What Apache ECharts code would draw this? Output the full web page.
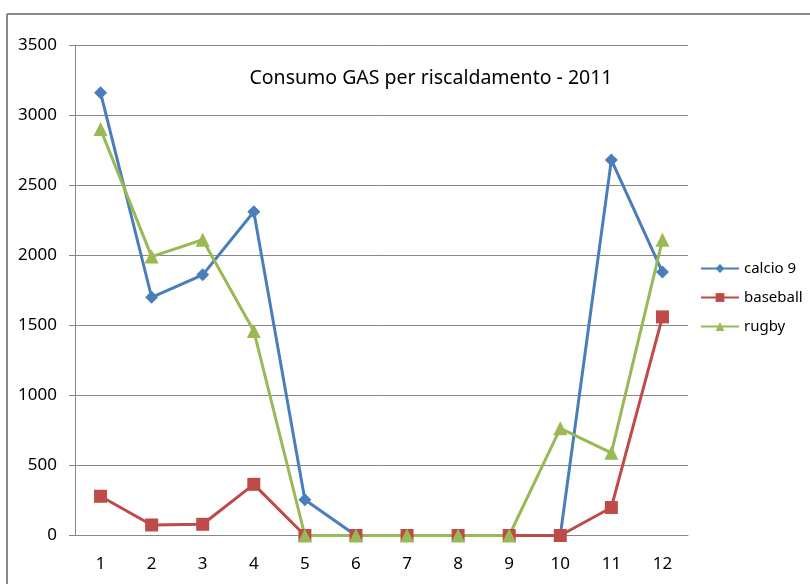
<!DOCTYPE html>
<html>
<head>
<meta charset="utf-8">
<script src="https://cdn.jsdelivr.net/npm/echarts@6/dist/echarts.min.js"></script>
<style>
    html, body { margin: 0; padding: 0; background: #fff; }
    #chart { width: 810px; height: 584px; }
</style>
</head>
<body>
<div id="chart"></div>
<script>
// dati
const mesi = ['1', '2', '3', '4', '5', '6', '7', '8', '9', '10', '11', '12'];
const calcio9 = [3160, 1700, 1860, 2310, 255, 0, 0, 0, 0, 0, 2680, 1880];
const baseball = [280, 75, 80, 365, 0, 0, 0, 0, 0, 0, 200, 1560];
const rugby = [2900, 1990, 2110, 1460, 0, 0, 0, 0, 0, 765, 590, 2110];

const font = 'Noto Sans';
const myChart = echarts.init(document.getElementById('chart'));

function serie(name, data, color, symbol, size) {
    return {
        name: name,
        type: 'line',
        data: data,
        symbol: symbol,
        symbolSize: size,
        lineStyle: {color: color, width: 3},
        itemStyle: {color: color},
        animation: false
    };
}

const option = {
    backgroundColor: '#fff',
    title: {
        text: 'Consumo GAS per riscaldamento - 2011',
        left: 426,
        top: 63,
        textAlign: 'center',
        textStyle: {fontFamily: font, fontSize: 19.5, fontWeight: 'normal', color: '#000'}
    },
    legend: {
        orient: 'vertical',
        left: 695,
        top: 256,
        itemWidth: 38,
        itemHeight: 11,
        itemGap: 14,
        textStyle: {fontFamily: font, fontSize: 15, color: '#000'},
        data: ['calcio 9', 'baseball', 'rugby']
    },
    grid: {left: 75, right: 122, top: 45, bottom: 48.5},
    xAxis: {
        type: 'category',
        data: mesi,
        boundaryGap: true,
        axisLine: {lineStyle: {color: '#868686'}},
        axisTick: {length: 5, lineStyle: {color: '#868686'}},
        axisLabel: {fontFamily: font, fontSize: 17, color: '#000', margin: 20}
    },
    yAxis: {
        type: 'value',
        min: 0,
        max: 3500,
        interval: 500,
        axisLine: {show: true, lineStyle: {color: '#868686'}},
        axisTick: {show: true, length: 6, lineStyle: {color: '#868686'}},
        axisLabel: {fontFamily: font, fontSize: 17, color: '#000', margin: 18, formatter: (v) => String(v)},
        splitLine: {lineStyle: {color: '#868686'}}
    },
    graphic: [
        {type: 'line', shape: {x1: 7, y1: 14, x2: 810, y2: 14}, style: {stroke: '#888', lineWidth: 2}},
        {type: 'line', shape: {x1: 7, y1: 14, x2: 7, y2: 584}, style: {stroke: '#888', lineWidth: 2}}
    ],
    series: [
        serie('calcio 9', calcio9, '#4a7ebb', 'diamond', 13),
        serie('baseball', baseball, '#be4b48', 'rect', 13),
        serie('rugby', rugby, '#98b954', 'triangle', 14)
    ]
};
myChart.setOption(option);
</script>
</body>
</html>
